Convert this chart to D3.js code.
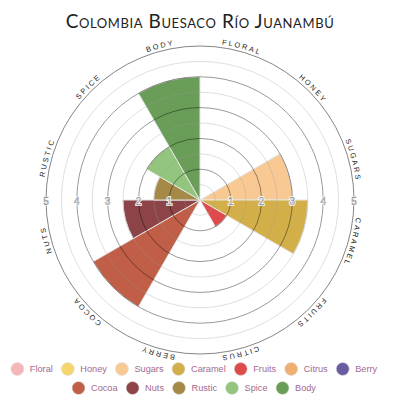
<!DOCTYPE html>
<head>
<meta charset="UTF-8">
<script src="https://d3js.org/d3.v7.min.js"></script>
<style>
  body { margin: 0; background: #fff; }
</style>
</head>
<body>
<div id="chart"></div>
<script>
// flavour wheel data
const title = "Colombia Buesaco Río Juanambú";
const categories = ["Floral", "Honey", "Sugars", "Caramel", "Fruits", "Citrus",
                    "Berry", "Cocoa", "Nuts", "Rustic", "Spice", "Body"];
const scores = [0, 0, 3, 3.5, 1, 0, 0, 4, 2.5, 1.5, 2, 4];
const colors = ["#f4b6b6", "#f5d66e", "#f9c994", "#d3af4a", "#df4a4a", "#eeb070",
                "#6a5ba3", "#c05e48", "#8c4448", "#a58946", "#93c57f", "#6a9e58"];
const gridSteps = [0.5, 1, 1.5, 2, 2.5, 3, 3.5, 4, 4.5, 5];
const tickLabels = [1, 2, 3, 4, 5];

const width = 400, height = 400;
const cx = 200, cy = 200;
const outer = 154;

const svg = d3.select("#chart").append("svg")
  .attr("width", width)
  .attr("height", height);

svg.append("text")
  .attr("x", 200)
  .attr("y", 28)
  .attr("text-anchor", "middle")
  .style("font-family", "Lato, 'Open Sans', sans-serif")
  .style("font-size", "19px")
  .style("font-variant", "small-caps")
  .style("letter-spacing", "0.6px")
  .attr("fill", "#222")
  .text(title);

const g = svg.append("g").attr("transform", `translate(${cx},${cy})`);

const r = d3.scaleLinear().domain([0, 5]).range([0, outer]);
const angle = d3.scaleBand().domain(categories).range([0, 2 * Math.PI]);

const arc = d3.arc()
  .innerRadius(0)
  .outerRadius(d => r(d.value))
  .startAngle(d => angle(d.cat))
  .endAngle(d => angle(d.cat) + angle.bandwidth());

const data = categories.map((c, i) => ({cat: c, value: scores[i], color: colors[i]}));

g.append("g")
  .selectAll("path")
  .data(data.filter(d => d.value > 0))
  .join("path")
  .attr("d", arc)
  .attr("fill", d => d.color)
  .attr("stroke", "#e6e6e6")
  .attr("stroke-width", 1);

// rings on top of the wedges
g.append("g")
  .selectAll("circle")
  .data(gridSteps)
  .join("circle")
  .attr("r", d => r(d))
  .attr("fill", "none")
  .attr("stroke", d => d === 5 ? "#666" : (d % 1 === 0 ? "#000" : "#999"))
  .attr("stroke-opacity", d => d === 5 ? 1 : (d % 1 === 0 ? 0.5 : 0.4))
  .attr("stroke-width", 0.8);

// tick numbers on both sides of the horizontal axis (outlined digits)
const ticks = g.append("g")
  .style("font-family", "'Liberation Sans', Arial, sans-serif")
  .style("font-size", "10px")
  .attr("text-anchor", "middle")
  .attr("dominant-baseline", "central");
[-1, 1].forEach(side => {
  ticks.selectAll(null)
    .data(tickLabels)
    .join("text")
    .attr("x", d => side * r(d))
    .attr("y", 1)
    .attr("fill", "#fff")
    .attr("stroke", "#fff")
    .attr("stroke-width", 2)
    .text(d => d);
  ticks.selectAll(null)
    .data(tickLabels)
    .join("text")
    .attr("x", d => side * r(d))
    .attr("y", 1)
    .attr("fill", "#f4f4f4")
    .attr("stroke", "#888")
    .attr("stroke-width", 0.45)
    .text(d => d);
});

// category names along a clockwise circle
const labelR = 157;
g.append("path")
  .attr("id", "labelPath")
  .attr("fill", "none")
  .attr("d", `M0,${-labelR} A${labelR},${labelR} 0 1 1 0,${labelR} A${labelR},${labelR} 0 1 1 0,${-labelR}`);

g.append("g")
  .selectAll("text")
  .data(categories)
  .join("text")
  .style("font-family", "'Liberation Sans', Arial, sans-serif")
  .style("font-size", "7.3px")
  .style("letter-spacing", "2px")
  .attr("fill", "#222")
  .append("textPath")
  .attr("href", "#labelPath")
  .attr("text-anchor", "middle")
  .attr("startOffset", d => (angle(d) + angle.bandwidth() / 2) * labelR + 1)
  .text(d => d.toUpperCase());

// legend, two centred rows
const rows = [categories.slice(0, 7), categories.slice(7)];
const rowY = [369, 388];
const legend = svg.append("g")
  .style("font-family", "'Liberation Sans', Arial, sans-serif")
  .style("font-size", "9.2px");

rows.forEach((row, ri) => {
  const rg = legend.append("g");
  let x = 0;
  row.forEach(c => {
    const item = rg.append("g").attr("transform", `translate(${x},${rowY[ri]})`);
    item.append("circle")
      .attr("cx", 6.5)
      .attr("r", 6.5)
      .attr("fill", colors[categories.indexOf(c)])
      .attr("stroke", "#ddd")
      .attr("stroke-width", 0.6);
    const t = item.append("text")
      .attr("x", 19)
      .attr("dy", "0.35em")
      .attr("fill", "#a5698f")
      .text(c);
    x += 19 + t.node().getComputedTextLength() + 8.5;
  });
  const w = x - 8.5;
  rg.attr("transform", `translate(${194 - w / 2},0)`);
});
</script>
</body>
</html>
